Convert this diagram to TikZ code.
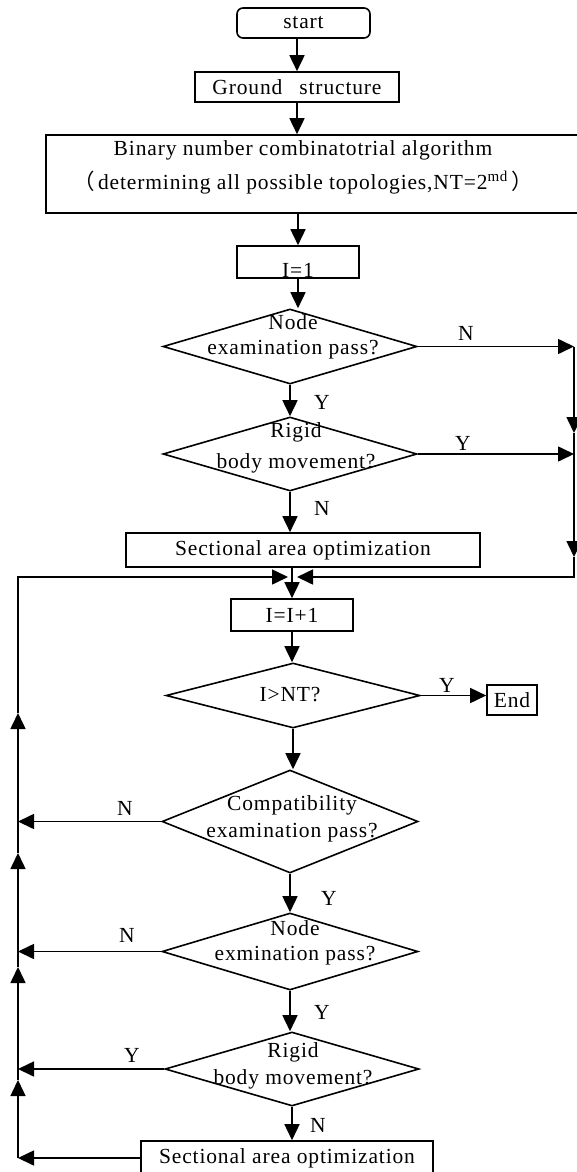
\documentclass[tikz,border=0pt]{standalone}
\usepackage{fontspec}
\setmainfont{Liberation Serif}[LetterSpace=4]
\newfontfamily\cjk{Noto Sans CJK SC}
\usetikzlibrary{shapes,arrows.meta,positioning,calc}

\begin{document}
\begin{tikzpicture}[x=1pt, y=-1pt, line width=1.6pt,
                    font=\fontsize{21.5}{25}\selectfont,
                    box/.style={draw, rectangle, inner sep=0pt},
                    dia/.style={draw, diamond, inner sep=0pt},
                    arr/.style={-{Triangle[length=16pt,width=15pt]}},
                    lab/.style={inner sep=0pt, align=center}]
                    \useasboundingbox (0,0) rectangle (577,1172);

                    % Top boxes
                    \node[box, rounded corners=6pt, minimum width=133pt, minimum height=30pt] (start) at (303.5,23) {start};
                    \node[box, minimum width=204pt, minimum height=30pt] (ground) at (297,87) {Ground\hspace{17pt}structure};
                    \node[box, minimum width=533pt, minimum height=78pt] (binary) at (312.5,174) {};
                    \node[lab] (bintext) at (303,167) {Binary number combinatotrial algorithm\\[9pt]{\cjk （}\,determining all possible topologies,NT=2\textsuperscript{md}\,{\cjk ）}};
                    \node[box, minimum width=122pt, minimum height=32pt, text height=30pt, text depth=0pt] (i1) at (298,262) {I=1};

                    % First loop
                    \node[dia, minimum width=254pt, minimum height=75pt] (d1) at (290,346.5) {};
                    \node[lab] (d1text) at (293,337) {Node\\examination pass?};
                    \node[dia, minimum width=254pt, minimum height=74pt] (d2) at (290,454) {};
                    \node[lab] (d2text) at (296,447.5) {Rigid\\[6pt]body movement?};
                    \node[box, minimum width=354pt, minimum height=34pt] (sect1) at (303,550) {Sectional area optimization};

                    % Counter
                    \coordinate (lc) at (18,577);
                    \coordinate (mid) at (292,577);
                    \coordinate (rc) at (574,577);
                    \node[box, minimum width=122pt, minimum height=32pt] (i2) at (292,615) {I=I+1};
                    \node[dia, minimum width=254pt, minimum height=65pt] (d3) at (293,695.5) {};
                    \node[lab] (d3text) at (290,695) {I>NT?};
                    \node[box, minimum width=50pt, minimum height=30pt] (endbox) at (512,700) {End};

                    % Second loop
                    \node[dia, minimum width=256pt, minimum height=103pt] (d4) at (290,821.5) {};
                    \node[lab] (d4text) at (292,818.5) {Compatibility\\[2pt]examination pass?};
                    \node[dia, minimum width=256pt, minimum height=77pt] (d5) at (290,951.5) {};
                    \node[lab] (d5text) at (295,942.5) {Node\\exmination pass?};
                    \node[dia, minimum width=254pt, minimum height=74pt] (d6) at (292,1069) {};
                    \node[lab] (d6text) at (293,1065.5) {Rigid\\[2pt]body movement?};
                    \node[box, minimum width=292pt, minimum height=34pt] (sect2) at (287,1158) {Sectional area optimization};

                    % Main flow
                    \draw[arr] (start.south -| ground) -- (ground.north);
                    \draw[arr] (ground.south) -- (ground.south |- binary.north);
                    \draw[arr] (binary.south -| i1) -- (i1.north);
                    \draw[arr] (i1.south) -- (i1.south |- d1.north);
                    \draw[arr] (d1.south) -- (d2.north);
                    \draw[arr] (d2.south) -- (d2.south |- sect1.north);
                    \draw[arr] (sect1.south -| i2) -- (i2.north);
                    \draw[arr] (i2.south) -- (i2.south |- d3.north);
                    \draw[arr] (d3.east) -- (d3.east -| endbox.west);
                    \draw[arr] (d3.south) -- (d3.south |- d4.north);
                    \draw[arr] (d4.south) -- (d4.south |- d5.north);
                    \draw[arr] (d5.south) -- (d5.south |- d6.north);
                    \draw[arr] (d6.south) -- (d6.south |- sect2.north);

                    % Right return line
                    \coordinate (r1) at (574,433);
                    \coordinate (r2) at (574,557);
                    \draw[arr] (d1.east) -- (d1.east -| rc);
                    \draw[arr] (d2.east) -- (d2.east -| rc);
                    \draw[arr] (d1.east -| rc) -- (r1);
                    \draw[arr] (r1) -- (r2);
                    \draw[arr] (r2) -- (rc) -- ($(mid)+(5,0)$);

                    % Left return line
                    \coordinate (u1) at (18,713);
                    \coordinate (u2) at (18,853);
                    \coordinate (u3) at (18,967);
                    \coordinate (u4) at (18,1080);
                    \draw[arr] (d4.west) -- (d4.west -| lc);
                    \draw[arr] (d5.west) -- (d5.west -| lc);
                    \draw[arr] (d6.west) -- (d6.west -| lc);
                    \draw[arr] (sect2.west) -- (sect2.west -| lc);
                    \draw[arr] (sect2.west -| lc) -- (u4);
                    \draw[arr] (u4) -- (u3);
                    \draw[arr] (u3) -- (u2);
                    \draw[arr] (u2) -- (u1);
                    \draw[arr] (u1) -- (lc) -- ($(mid)+(-4,0)$);

                    % Branch labels
                    \node[lab] (n1) at (466,333) {N};
                    \node[lab] (y1) at (322,402) {Y};
                    \node[lab] (y2) at (463,443) {Y};
                    \node[lab] (n2) at (322,508) {N};
                    \node[lab] (y3) at (447,685) {Y};
                    \node[lab] (n4) at (125,808) {N};
                    \node[lab] (y4) at (329,898) {Y};
                    \node[lab] (n5) at (127,935) {N};
                    \node[lab] (y5) at (322,1012) {Y};
                    \node[lab] (y6) at (132,1055) {Y};
                    \node[lab] (n6) at (318,1125) {N};
                \end{tikzpicture}
\end{document}
